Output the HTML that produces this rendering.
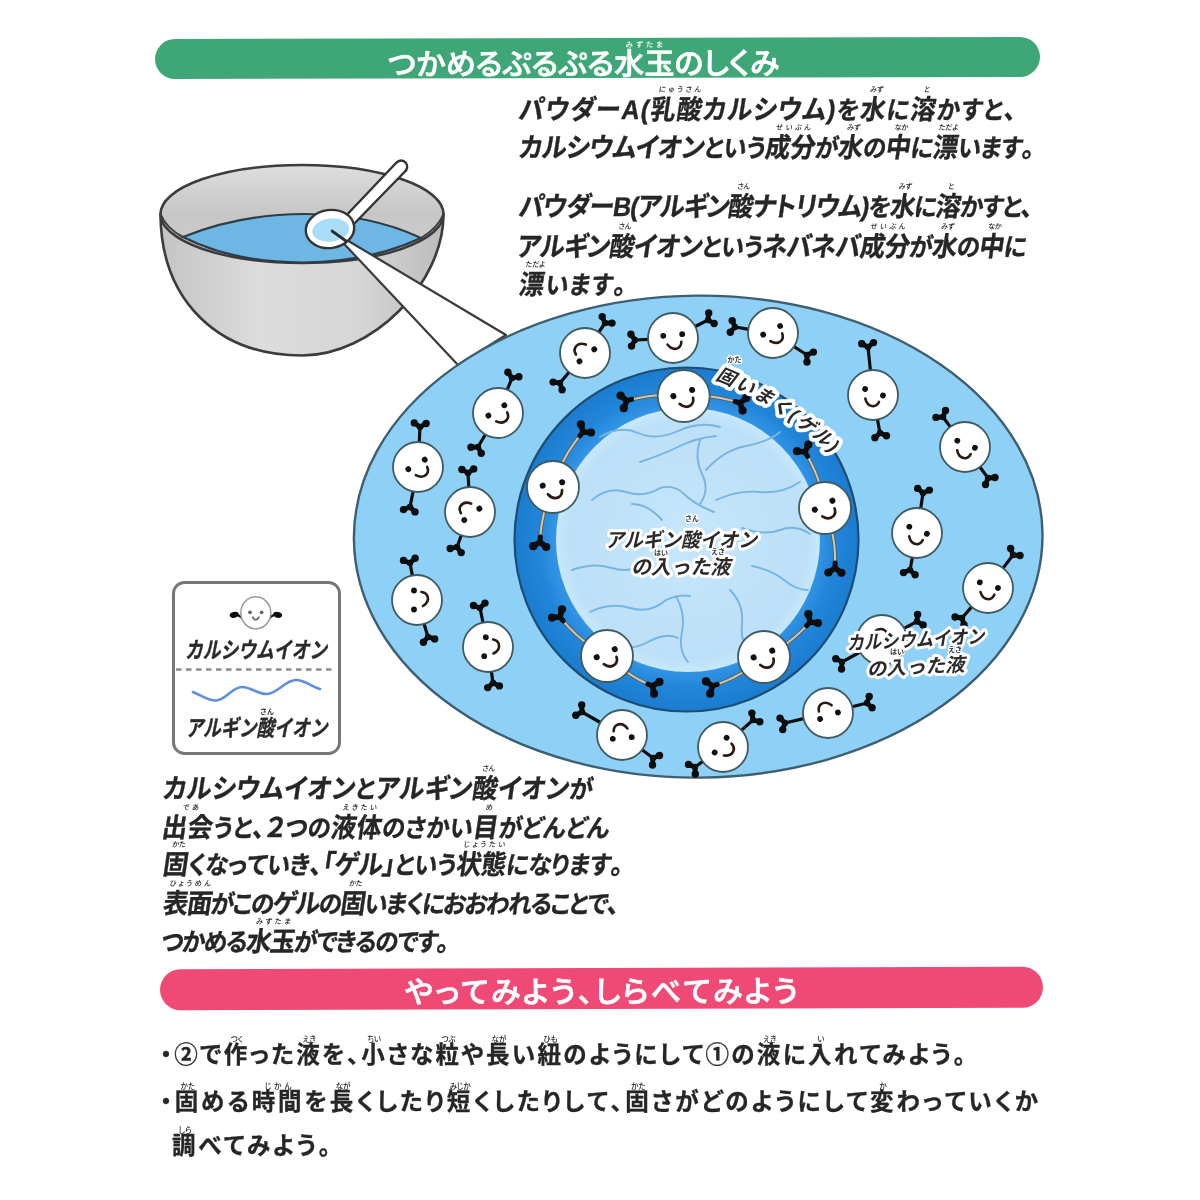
<!DOCTYPE html>
<html lang="ja"><head><meta charset="utf-8"><title>つかめるぷるぷる水玉のしくみ</title>
<style>
html,body{margin:0;padding:0;background:#fff}
#pg{position:relative;width:1200px;height:1200px;overflow:hidden;background:#fff;font-family:"Liberation Sans","Noto Sans CJK JP",sans-serif;filter:blur(.55px)}
.bn{position:absolute;border-radius:20px}
.ln{position:absolute;white-space:nowrap;transform-origin:0 80%;font-kerning:none;font-feature-settings:"palt"}
.it{transform:scaleX(.93) skewX(-9deg);-webkit-text-stroke:.35px #262626}
ruby{position:relative;display:inline;ruby-position:over}
rt{display:block;position:absolute;left:50%;top:var(--rt);transform:translateX(-50%);font-size:7.5px;line-height:9px;letter-spacing:0;font-weight:500;white-space:nowrap;text-align:center;color:inherit;-webkit-text-stroke:0}
svg{position:absolute;left:0;top:0}
svg text{font-family:"Liberation Sans","Noto Sans CJK JP",sans-serif;font-weight:bold}
.arm{stroke:#0d0d0d;fill:none;stroke-linecap:round}
.ic{fill:#fff;stroke:#3f5a60;stroke-width:1.8}
.sm{fill:none;stroke:#2a1a14;stroke-width:2.6;stroke-linecap:round}
.lb{fill:#2a2a2a;stroke:#fff;stroke-width:6px;paint-order:stroke fill;stroke-linejoin:round;font-style:italic}
.lr{fill:#333;stroke:#fff;stroke-width:2.5px;paint-order:stroke fill;font-weight:bold}
.lg{fill:#2a2a2a;font-style:italic;stroke:#2a2a2a;stroke-width:.4px}
</style></head><body><div id="pg">
<div class="bn" style="left:155px;top:38px;width:885px;height:40px;background:#3fa678;transform:rotate(-0.14deg)"></div>
<div class="bn" style="left:160px;top:967.5px;width:883px;height:40.5px;background:#ef4a76;border-radius:21px;transform:rotate(-0.16deg)"></div>
<svg width="1200" height="1200" viewBox="0 0 1200 1200">
<defs>
<linearGradient id="gb" x1="0" y1="0" x2="1" y2="0"><stop offset="0" stop-color="#c4c4c4"/><stop offset=".35" stop-color="#dcdcdc"/><stop offset=".7" stop-color="#d6d6d6"/><stop offset="1" stop-color="#bcbcbc"/></linearGradient>
<linearGradient id="gi" x1="0" y1="0" x2="0" y2="1"><stop offset="0" stop-color="#dedede"/><stop offset=".5" stop-color="#c6c6c6"/><stop offset="1" stop-color="#cfcfcf"/></linearGradient>
<radialGradient id="gin" cx=".5" cy=".5" r=".5"><stop offset="0" stop-color="#c6e6fa"/><stop offset=".9" stop-color="#bce0f8"/><stop offset="1" stop-color="#c8e8fb"/></radialGradient>
<radialGradient id="gr" cx=".5" cy=".5" r=".5"><stop offset=".76" stop-color="#3595e5"/><stop offset=".86" stop-color="#2186da"/><stop offset="1" stop-color="#1b7ccf"/></radialGradient>
</defs>
<path d="M160.5 214C161 300 217 355.5 302 355.5C372 355.5 443.5 284 443.5 214Z" fill="url(#gb)" stroke="#3c3c3c" stroke-width="2.6"/>
<ellipse cx="302" cy="214" rx="141.5" ry="49" fill="url(#gi)" stroke="#3c3c3c" stroke-width="2.6"/>
<path d="M183 237Q240 214 305 214Q370 214 421 238Q370 262 302 262.5Q232 262 183 237Z" fill="#6eb6e3" stroke="#2e3c46" stroke-width="2.2"/>
<path d="M160.5 214Q166 228 183 237M421 238Q438 228 443.5 214" fill="none" stroke="#3c3c3c" stroke-width="2"/>
<path d="M458 365L332.5 231.5L506 335Z" fill="#fff" stroke="#3a3a3a" stroke-width="2.2" stroke-linejoin="round"/>
<path d="M341 221L396.5 162.5Q402 158.5 406 163Q409 168 404.5 172L349 229Z" fill="#fff" stroke="#333" stroke-width="2.4" stroke-linejoin="round"/>
<ellipse cx="330" cy="229" rx="24.3" ry="19" transform="rotate(-8 330 229)" fill="#fff" stroke="#333" stroke-width="2.4"/>
<ellipse cx="330.7" cy="230" rx="18.5" ry="11.5" transform="rotate(-8 330.7 230)" fill="#a9dcf5"/>
<path d="M332 231L346 241" stroke="#2c2c2c" stroke-width="2.8" stroke-linecap="round"/>
<ellipse cx="698.2" cy="536.6" rx="344.3" ry="241" transform="rotate(-0.4 698 537)" fill="#8fd1f6" stroke="#3d5f70" stroke-width="2.4"/>
<circle cx="686.5" cy="539.5" r="172" fill="url(#gr)" stroke="#1f4c72" stroke-width="2.2"/>
<circle cx="688" cy="540" r="132" fill="url(#gin)"/>
<path d="M600 437q20 -12 38 -4t40 -2q22 -10 42 -4" fill="none" stroke="#78b4e2" stroke-width="1.9" stroke-linecap="round"/>
<path d="M592 500q16 -14 34 -8t34 -4q14 -4 24 6t30 18" fill="none" stroke="#78b4e2" stroke-width="1.9" stroke-linecap="round"/>
<path d="M640 462q24 -8 40 -16t36 -10" fill="none" stroke="#78b4e2" stroke-width="1.9" stroke-linecap="round"/>
<path d="M706 470q18 -20 40 -24t34 -14" fill="none" stroke="#78b4e2" stroke-width="1.9" stroke-linecap="round"/>
<path d="M716 500q22 -10 44 -8t40 -10" fill="none" stroke="#78b4e2" stroke-width="1.9" stroke-linecap="round"/>
<path d="M742 528q22 8 38 2t30 4" fill="none" stroke="#78b4e2" stroke-width="1.9" stroke-linecap="round"/>
<path d="M572 570q22 -8 40 -2t38 -6" fill="none" stroke="#78b4e2" stroke-width="1.9" stroke-linecap="round"/>
<path d="M590 612q20 -10 40 -4t36 -8q14 -6 24 -4" fill="none" stroke="#78b4e2" stroke-width="1.9" stroke-linecap="round"/>
<path d="M604 646q26 6 44 -4t30 -4" fill="none" stroke="#78b4e2" stroke-width="1.9" stroke-linecap="round"/>
<path d="M676 596q10 18 6 36t6 30" fill="none" stroke="#78b4e2" stroke-width="1.9" stroke-linecap="round"/>
<path d="M730 590q14 14 12 34t10 30" fill="none" stroke="#78b4e2" stroke-width="1.9" stroke-linecap="round"/>
<path d="M752 566q20 4 32 14t24 10" fill="none" stroke="#78b4e2" stroke-width="1.9" stroke-linecap="round"/>
<path d="M700 440q-6 18 2 34t-2 30" fill="none" stroke="#78b4e2" stroke-width="1.9" stroke-linecap="round"/>
<path d="M662 520q-14 -16 -30 -16" fill="none" stroke="#78b4e2" stroke-width="1.9" stroke-linecap="round"/>
<path d="M683.7 396.0L676.7 395.4L669.6 395.1L662.5 395.1L655.3 395.5L648.2 396.3L641.0 397.4L633.8 398.9L626.7 400.7" fill="none" stroke="#5a5a52" stroke-width="3.6" stroke-linecap="round"/><path d="M683.7 396.0L676.7 395.4L669.6 395.1L662.5 395.1L655.3 395.5L648.2 396.3L641.0 397.4L633.8 398.9L626.7 400.7" fill="none" stroke="#d2c6ae" stroke-width="2" stroke-linecap="round"/><path d="M626.7 400.7L623.8 408.2" class="arm" stroke-width="5.6"/><circle cx="623.8" cy="408.2" r="4.1" fill="#0d0d0d"/><path d="M626.7 400.7L620.6 395.6" class="arm" stroke-width="5.6"/><circle cx="620.6" cy="395.6" r="4.1" fill="#0d0d0d"/><path d="M631.5 399.4L626.7 400.7" class="arm" stroke-width="5"/>
<path d="M683.7 396.0L690.8 395.7L697.9 395.6L705.0 396.0L712.0 396.7L719.1 397.7L726.1 399.2L733.1 400.9L740.0 403.0" fill="none" stroke="#5a5a52" stroke-width="3.6" stroke-linecap="round"/><path d="M683.7 396.0L690.8 395.7L697.9 395.6L705.0 396.0L712.0 396.7L719.1 397.7L726.1 399.2L733.1 400.9L740.0 403.0" fill="none" stroke="#d2c6ae" stroke-width="2" stroke-linecap="round"/><path d="M740.0 403.0L746.3 398.1" class="arm" stroke-width="5.6"/><circle cx="746.3" cy="398.1" r="4.1" fill="#0d0d0d"/><path d="M740.0 403.0L742.6 410.6" class="arm" stroke-width="5.6"/><circle cx="742.6" cy="410.6" r="4.1" fill="#0d0d0d"/><path d="M735.2 401.5L740.0 403.0" class="arm" stroke-width="5"/>
<path d="M553.0 487.0L555.4 479.6L558.1 472.3L561.3 465.2L564.9 458.1L568.8 451.3L573.2 444.6L577.9 438.2L583.0 432.0" fill="none" stroke="#5a5a52" stroke-width="3.6" stroke-linecap="round"/><path d="M553.0 487.0L555.4 479.6L558.1 472.3L561.3 465.2L564.9 458.1L568.8 451.3L573.2 444.6L577.9 438.2L583.0 432.0" fill="none" stroke="#d2c6ae" stroke-width="2" stroke-linecap="round"/><path d="M583.0 432.0L580.9 424.3" class="arm" stroke-width="5.6"/><circle cx="580.9" cy="424.3" r="4.1" fill="#0d0d0d"/><path d="M583.0 432.0L591.0 432.5" class="arm" stroke-width="5.6"/><circle cx="591.0" cy="432.5" r="4.1" fill="#0d0d0d"/><path d="M579.8 435.9L583.0 432.0" class="arm" stroke-width="5"/>
<path d="M553.0 487.0L550.2 493.5L547.8 500.1L545.6 506.8L543.8 513.7L542.4 520.7L541.2 527.7L540.4 534.8L540.0 542.0" fill="none" stroke="#5a5a52" stroke-width="3.6" stroke-linecap="round"/><path d="M553.0 487.0L550.2 493.5L547.8 500.1L545.6 506.8L543.8 513.7L542.4 520.7L541.2 527.7L540.4 534.8L540.0 542.0" fill="none" stroke="#d2c6ae" stroke-width="2" stroke-linecap="round"/><path d="M540.0 542.0L546.2 547.0" class="arm" stroke-width="5.6"/><circle cx="546.2" cy="547.0" r="4.1" fill="#0d0d0d"/><path d="M540.0 542.0L533.2 546.2" class="arm" stroke-width="5.6"/><circle cx="533.2" cy="546.2" r="4.1" fill="#0d0d0d"/><path d="M540.3 537.0L540.0 542.0" class="arm" stroke-width="5"/>
<path d="M825.0 508.0L823.8 500.7L822.3 493.5L820.3 486.3L818.0 479.2L815.3 472.2L812.2 465.3L808.8 458.6L805.0 452.0" fill="none" stroke="#5a5a52" stroke-width="3.6" stroke-linecap="round"/><path d="M825.0 508.0L823.8 500.7L822.3 493.5L820.3 486.3L818.0 479.2L815.3 472.2L812.2 465.3L808.8 458.6L805.0 452.0" fill="none" stroke="#d2c6ae" stroke-width="2" stroke-linecap="round"/><path d="M805.0 452.0L797.0 451.2" class="arm" stroke-width="5.6"/><circle cx="797.0" cy="451.2" r="4.1" fill="#0d0d0d"/><path d="M805.0 452.0L808.3 444.7" class="arm" stroke-width="5.6"/><circle cx="808.3" cy="444.7" r="4.1" fill="#0d0d0d"/><path d="M807.5 456.3L805.0 452.0" class="arm" stroke-width="5"/>
<path d="M825.0 508.0L827.6 515.0L829.8 522.2L831.6 529.5L833.1 537.0L834.2 544.6L834.9 552.3L835.1 560.1L835.0 568.0" fill="none" stroke="#5a5a52" stroke-width="3.6" stroke-linecap="round"/><path d="M825.0 508.0L827.6 515.0L829.8 522.2L831.6 529.5L833.1 537.0L834.2 544.6L834.9 552.3L835.1 560.1L835.0 568.0" fill="none" stroke="#d2c6ae" stroke-width="2" stroke-linecap="round"/><path d="M835.0 568.0L841.4 572.8" class="arm" stroke-width="5.6"/><circle cx="841.4" cy="572.8" r="4.1" fill="#0d0d0d"/><path d="M835.0 568.0L828.4 572.5" class="arm" stroke-width="5.6"/><circle cx="828.4" cy="572.5" r="4.1" fill="#0d0d0d"/><path d="M835.1 563.0L835.0 568.0" class="arm" stroke-width="5"/>
<path d="M607.0 656.0L600.4 652.4L594.0 648.4L587.7 644.0L581.7 639.3L575.9 634.2L570.3 628.8L565.0 623.0L560.0 617.0" fill="none" stroke="#5a5a52" stroke-width="3.6" stroke-linecap="round"/><path d="M607.0 656.0L600.4 652.4L594.0 648.4L587.7 644.0L581.7 639.3L575.9 634.2L570.3 628.8L565.0 623.0L560.0 617.0" fill="none" stroke="#d2c6ae" stroke-width="2" stroke-linecap="round"/><path d="M560.0 617.0L552.0 617.6" class="arm" stroke-width="5.6"/><circle cx="552.0" cy="617.6" r="4.1" fill="#0d0d0d"/><path d="M560.0 617.0L562.0 609.3" class="arm" stroke-width="5.6"/><circle cx="562.0" cy="609.3" r="4.1" fill="#0d0d0d"/><path d="M563.2 620.8L560.0 617.0" class="arm" stroke-width="5"/>
<path d="M607.0 656.0L611.9 660.6L617.0 664.9L622.4 669.0L628.0 672.9L633.8 676.6L639.8 680.0L646.1 683.1L652.5 686.0" fill="none" stroke="#5a5a52" stroke-width="3.6" stroke-linecap="round"/><path d="M607.0 656.0L611.9 660.6L617.0 664.9L622.4 669.0L628.0 672.9L633.8 676.6L639.8 680.0L646.1 683.1L652.5 686.0" fill="none" stroke="#d2c6ae" stroke-width="2" stroke-linecap="round"/><path d="M652.5 686.0L659.4 681.9" class="arm" stroke-width="5.6"/><circle cx="659.4" cy="681.9" r="4.1" fill="#0d0d0d"/><path d="M652.5 686.0L654.1 693.8" class="arm" stroke-width="5.6"/><circle cx="654.1" cy="693.8" r="4.1" fill="#0d0d0d"/><path d="M647.9 684.0L652.5 686.0" class="arm" stroke-width="5"/>
<path d="M764.0 657.0L758.4 661.7L752.6 666.1L746.5 670.2L740.1 674.0L733.5 677.5L726.7 680.7L719.7 683.5L712.5 686.0" fill="none" stroke="#5a5a52" stroke-width="3.6" stroke-linecap="round"/><path d="M764.0 657.0L758.4 661.7L752.6 666.1L746.5 670.2L740.1 674.0L733.5 677.5L726.7 680.7L719.7 683.5L712.5 686.0" fill="none" stroke="#d2c6ae" stroke-width="2" stroke-linecap="round"/><path d="M712.5 686.0L710.2 693.7" class="arm" stroke-width="5.6"/><circle cx="710.2" cy="693.7" r="4.1" fill="#0d0d0d"/><path d="M712.5 686.0L706.0 681.4" class="arm" stroke-width="5.6"/><circle cx="706.0" cy="681.4" r="4.1" fill="#0d0d0d"/><path d="M717.2 684.4L712.5 686.0" class="arm" stroke-width="5"/>
<path d="M764.0 657.0L770.3 653.8L776.5 650.2L782.6 646.3L788.5 642.1L794.2 637.5L799.7 632.6L805.0 627.5L810.0 622.0" fill="none" stroke="#5a5a52" stroke-width="3.6" stroke-linecap="round"/><path d="M764.0 657.0L770.3 653.8L776.5 650.2L782.6 646.3L788.5 642.1L794.2 637.5L799.7 632.6L805.0 627.5L810.0 622.0" fill="none" stroke="#d2c6ae" stroke-width="2" stroke-linecap="round"/><path d="M810.0 622.0L808.4 614.2" class="arm" stroke-width="5.6"/><circle cx="808.4" cy="614.2" r="4.1" fill="#0d0d0d"/><path d="M810.0 622.0L817.9 623.0" class="arm" stroke-width="5.6"/><circle cx="817.9" cy="623.0" r="4.1" fill="#0d0d0d"/><path d="M806.6 625.7L810.0 622.0" class="arm" stroke-width="5"/>
<circle cx="683.7" cy="396.0" r="26.0" class="ic"/><g transform="translate(683.7 396.0) rotate(-18) scale(1.04)"><circle cx="-9.5" cy="-3" r="2.9" fill="#111"/><circle cx="9.5" cy="-3" r="2.9" fill="#111"/><path d="M-6 6Q-2 12.5 4 10.5Q7.5 9 8 4.5" class="sm"/></g>
<circle cx="553.0" cy="487.0" r="26.0" class="ic"/><g transform="translate(553.0 487.0) rotate(-10) scale(1.04)"><circle cx="-9.5" cy="-3" r="2.9" fill="#111"/><circle cx="9.5" cy="-3" r="2.9" fill="#111"/><path d="M-6 6Q-2 12.5 4 10.5Q7.5 9 8 4.5" class="sm"/></g>
<circle cx="825.0" cy="508.0" r="26.0" class="ic"/><g transform="translate(825.0 508.0) rotate(-27) scale(1.04)"><circle cx="-9.5" cy="-3" r="2.9" fill="#111"/><circle cx="9.5" cy="-3" r="2.9" fill="#111"/><path d="M-6 6Q-2 12.5 4 10.5Q7.5 9 8 4.5" class="sm"/></g>
<circle cx="607.0" cy="656.0" r="26.0" class="ic"/><g transform="translate(607.0 656.0) rotate(-24) scale(1.04)"><circle cx="-9.5" cy="-3" r="2.9" fill="#111"/><circle cx="9.5" cy="-3" r="2.9" fill="#111"/><path d="M-6 6Q-2 12.5 4 10.5Q7.5 9 8 4.5" class="sm"/></g>
<circle cx="764.0" cy="657.0" r="26.0" class="ic"/><g transform="translate(764.0 657.0) rotate(-20) scale(1.04)"><circle cx="-9.5" cy="-3" r="2.9" fill="#111"/><circle cx="9.5" cy="-3" r="2.9" fill="#111"/><path d="M-6 6Q-2 12.5 4 10.5Q7.5 9 8 4.5" class="sm"/></g>
<path d="M419.2 443.0L420.0 427.0" class="arm" stroke-width="3.2"/><path d="M420.0 427.0L414.3 422.9" class="arm" stroke-width="4.8"/><circle cx="414.3" cy="422.9" r="3.7" fill="#0d0d0d"/><path d="M420.0 427.0L426.1 423.5" class="arm" stroke-width="4.8"/><circle cx="426.1" cy="423.5" r="3.7" fill="#0d0d0d"/><circle cx="420.0" cy="427.0" r="3.2" fill="#0d0d0d"/><path d="M413.3 490.5L410.0 507.0" class="arm" stroke-width="3.2"/><path d="M410.0 507.0L415.0 511.9" class="arm" stroke-width="4.8"/><circle cx="415.0" cy="511.9" r="3.7" fill="#0d0d0d"/><path d="M410.0 507.0L403.5 509.6" class="arm" stroke-width="4.8"/><circle cx="403.5" cy="509.6" r="3.7" fill="#0d0d0d"/><circle cx="410.0" cy="507.0" r="3.2" fill="#0d0d0d"/><circle cx="418.0" cy="467.0" r="25.0" class="ic"/><g transform="translate(418.0 467.0) rotate(-30) scale(1.00)"><circle cx="-9.5" cy="-3" r="2.9" fill="#111"/><circle cx="9.5" cy="-3" r="2.9" fill="#111"/><path d="M-6 6Q-2 12.5 4 10.5Q7.5 9 8 4.5" class="sm"/></g>
<path d="M506.9 390.7L512.0 378.0" class="arm" stroke-width="3.2"/><path d="M512.0 378.0L507.9 372.3" class="arm" stroke-width="4.8"/><circle cx="507.9" cy="372.3" r="3.7" fill="#0d0d0d"/><path d="M512.0 378.0L518.9 376.7" class="arm" stroke-width="4.8"/><circle cx="518.9" cy="376.7" r="3.7" fill="#0d0d0d"/><circle cx="512.0" cy="378.0" r="3.2" fill="#0d0d0d"/><path d="M485.8 433.7L478.0 447.0" class="arm" stroke-width="3.2"/><path d="M478.0 447.0L481.2 453.2" class="arm" stroke-width="4.8"/><circle cx="481.2" cy="453.2" r="3.7" fill="#0d0d0d"/><path d="M478.0 447.0L471.0 447.3" class="arm" stroke-width="4.8"/><circle cx="471.0" cy="447.3" r="3.7" fill="#0d0d0d"/><circle cx="478.0" cy="447.0" r="3.2" fill="#0d0d0d"/><circle cx="498.0" cy="413.0" r="25.0" class="ic"/><g transform="translate(498.0 413.0) rotate(-33) scale(1.00)"><circle cx="-9.5" cy="-3" r="2.9" fill="#111"/><circle cx="9.5" cy="-3" r="2.9" fill="#111"/><path d="M-6 6Q-2 12.5 4 10.5Q7.5 9 8 4.5" class="sm"/></g>
<path d="M598.3 333.0L605.0 323.0" class="arm" stroke-width="3.2"/><path d="M605.0 323.0L602.2 316.6" class="arm" stroke-width="4.8"/><circle cx="602.2" cy="316.6" r="3.7" fill="#0d0d0d"/><path d="M605.0 323.0L612.0 323.1" class="arm" stroke-width="4.8"/><circle cx="612.0" cy="323.1" r="3.7" fill="#0d0d0d"/><circle cx="605.0" cy="323.0" r="3.2" fill="#0d0d0d"/><path d="M569.6 371.4L560.0 383.0" class="arm" stroke-width="3.2"/><path d="M560.0 383.0L562.1 389.7" class="arm" stroke-width="4.8"/><circle cx="562.1" cy="389.7" r="3.7" fill="#0d0d0d"/><path d="M560.0 383.0L553.1 382.1" class="arm" stroke-width="4.8"/><circle cx="553.1" cy="382.1" r="3.7" fill="#0d0d0d"/><circle cx="560.0" cy="383.0" r="3.2" fill="#0d0d0d"/><circle cx="585.0" cy="353.0" r="25.0" class="ic"/><g transform="translate(585.0 353.0) rotate(141) scale(1.00)"><circle cx="-9.5" cy="-3" r="2.9" fill="#111"/><circle cx="9.5" cy="-3" r="2.9" fill="#111"/><path d="M-6 6Q-2 12.5 4 10.5Q7.5 9 8 4.5" class="sm"/></g>
<path d="M649.0 339.3L635.0 340.0" class="arm" stroke-width="3.2"/><path d="M635.0 340.0L631.5 346.1" class="arm" stroke-width="4.8"/><circle cx="631.5" cy="346.1" r="3.7" fill="#0d0d0d"/><path d="M635.0 340.0L630.9 334.3" class="arm" stroke-width="4.8"/><circle cx="630.9" cy="334.3" r="3.7" fill="#0d0d0d"/><circle cx="635.0" cy="340.0" r="3.2" fill="#0d0d0d"/><path d="M694.3 327.0L708.0 320.0" class="arm" stroke-width="3.2"/><path d="M708.0 320.0L708.7 313.0" class="arm" stroke-width="4.8"/><circle cx="708.7" cy="313.0" r="3.7" fill="#0d0d0d"/><path d="M708.0 320.0L714.1 323.5" class="arm" stroke-width="4.8"/><circle cx="714.1" cy="323.5" r="3.7" fill="#0d0d0d"/><circle cx="708.0" cy="320.0" r="3.2" fill="#0d0d0d"/><circle cx="673.0" cy="338.0" r="25.0" class="ic"/><g transform="translate(673.0 338.0) rotate(-5) scale(1.00)"><circle cx="-9.5" cy="-3" r="2.9" fill="#111"/><circle cx="9.5" cy="-3" r="2.9" fill="#111"/><path d="M-6 6Q-2 12.5 4 10.5Q7.5 9 8 4.5" class="sm"/></g>
<path d="M468.8 488.0L468.0 473.0" class="arm" stroke-width="3.2"/><path d="M468.0 473.0L461.9 469.5" class="arm" stroke-width="4.8"/><circle cx="461.9" cy="469.5" r="3.7" fill="#0d0d0d"/><path d="M468.0 473.0L473.7 468.9" class="arm" stroke-width="4.8"/><circle cx="473.7" cy="468.9" r="3.7" fill="#0d0d0d"/><circle cx="468.0" cy="473.0" r="3.2" fill="#0d0d0d"/><path d="M461.6 534.5L457.0 547.0" class="arm" stroke-width="3.2"/><path d="M457.0 547.0L461.2 552.6" class="arm" stroke-width="4.8"/><circle cx="461.2" cy="552.6" r="3.7" fill="#0d0d0d"/><path d="M457.0 547.0L450.2 548.5" class="arm" stroke-width="4.8"/><circle cx="450.2" cy="548.5" r="3.7" fill="#0d0d0d"/><circle cx="457.0" cy="547.0" r="3.2" fill="#0d0d0d"/><circle cx="470.0" cy="512.0" r="25.0" class="ic"/><g transform="translate(470.0 512.0) rotate(143) scale(1.00)"><circle cx="-9.5" cy="-3" r="2.9" fill="#111"/><circle cx="9.5" cy="-3" r="2.9" fill="#111"/><path d="M-6 6Q-2 12.5 4 10.5Q7.5 9 8 4.5" class="sm"/></g>
<path d="M749.3 329.3L735.0 327.0" class="arm" stroke-width="3.2"/><path d="M735.0 327.0L730.3 332.2" class="arm" stroke-width="4.8"/><circle cx="730.3" cy="332.2" r="3.7" fill="#0d0d0d"/><path d="M735.0 327.0L732.2 320.6" class="arm" stroke-width="4.8"/><circle cx="732.2" cy="320.6" r="3.7" fill="#0d0d0d"/><circle cx="735.0" cy="327.0" r="3.2" fill="#0d0d0d"/><path d="M793.1 346.0L807.0 355.0" class="arm" stroke-width="3.2"/><path d="M807.0 355.0L813.4 352.1" class="arm" stroke-width="4.8"/><circle cx="813.4" cy="352.1" r="3.7" fill="#0d0d0d"/><path d="M807.0 355.0L807.0 362.0" class="arm" stroke-width="4.8"/><circle cx="807.0" cy="362.0" r="3.7" fill="#0d0d0d"/><circle cx="807.0" cy="355.0" r="3.2" fill="#0d0d0d"/><circle cx="773.0" cy="333.0" r="25.0" class="ic"/><g transform="translate(773.0 333.0) rotate(-27) scale(1.00)"><circle cx="-9.5" cy="-3" r="2.9" fill="#111"/><circle cx="9.5" cy="-3" r="2.9" fill="#111"/><path d="M-6 6Q-2 12.5 4 10.5Q7.5 9 8 4.5" class="sm"/></g>
<path d="M870.5 371.1L868.0 347.0" class="arm" stroke-width="3.2"/><path d="M868.0 347.0L861.7 343.8" class="arm" stroke-width="4.8"/><circle cx="861.7" cy="343.8" r="3.7" fill="#0d0d0d"/><path d="M868.0 347.0L873.5 342.6" class="arm" stroke-width="4.8"/><circle cx="873.5" cy="342.6" r="3.7" fill="#0d0d0d"/><circle cx="868.0" cy="347.0" r="3.2" fill="#0d0d0d"/><path d="M877.3 418.6L880.0 433.0" class="arm" stroke-width="3.2"/><path d="M880.0 433.0L886.5 435.7" class="arm" stroke-width="4.8"/><circle cx="886.5" cy="435.7" r="3.7" fill="#0d0d0d"/><path d="M880.0 433.0L874.9 437.8" class="arm" stroke-width="4.8"/><circle cx="874.9" cy="437.8" r="3.7" fill="#0d0d0d"/><circle cx="880.0" cy="433.0" r="3.2" fill="#0d0d0d"/><circle cx="873.0" cy="395.0" r="25.0" class="ic"/><g transform="translate(873.0 395.0) rotate(20) scale(1.00)"><circle cx="-9.5" cy="-3" r="2.9" fill="#111"/><circle cx="9.5" cy="-3" r="2.9" fill="#111"/><path d="M-6 6Q-2 12.5 4 10.5Q7.5 9 8 4.5" class="sm"/></g>
<path d="M950.8 427.6L943.0 417.0" class="arm" stroke-width="3.2"/><path d="M943.0 417.0L936.0 417.4" class="arm" stroke-width="4.8"/><circle cx="936.0" cy="417.4" r="3.7" fill="#0d0d0d"/><path d="M943.0 417.0L945.5 410.5" class="arm" stroke-width="4.8"/><circle cx="945.5" cy="410.5" r="3.7" fill="#0d0d0d"/><circle cx="943.0" cy="417.0" r="3.2" fill="#0d0d0d"/><path d="M979.3 466.3L988.0 478.0" class="arm" stroke-width="3.2"/><path d="M988.0 478.0L995.0 477.5" class="arm" stroke-width="4.8"/><circle cx="995.0" cy="477.5" r="3.7" fill="#0d0d0d"/><path d="M988.0 478.0L985.5 484.5" class="arm" stroke-width="4.8"/><circle cx="985.5" cy="484.5" r="3.7" fill="#0d0d0d"/><circle cx="988.0" cy="478.0" r="3.2" fill="#0d0d0d"/><circle cx="965.0" cy="447.0" r="25.0" class="ic"/><g transform="translate(965.0 447.0) rotate(22) scale(1.00)"><circle cx="-9.5" cy="-3" r="2.9" fill="#111"/><circle cx="9.5" cy="-3" r="2.9" fill="#111"/><path d="M-6 6Q-2 12.5 4 10.5Q7.5 9 8 4.5" class="sm"/></g>
<path d="M920.6 509.3L923.0 493.0" class="arm" stroke-width="3.2"/><path d="M923.0 493.0L917.7 488.4" class="arm" stroke-width="4.8"/><circle cx="917.7" cy="488.4" r="3.7" fill="#0d0d0d"/><path d="M923.0 493.0L929.4 490.1" class="arm" stroke-width="4.8"/><circle cx="929.4" cy="490.1" r="3.7" fill="#0d0d0d"/><circle cx="923.0" cy="493.0" r="3.2" fill="#0d0d0d"/><path d="M912.5 556.6L910.0 570.0" class="arm" stroke-width="3.2"/><path d="M910.0 570.0L915.1 574.8" class="arm" stroke-width="4.8"/><circle cx="915.1" cy="574.8" r="3.7" fill="#0d0d0d"/><path d="M910.0 570.0L903.5 572.6" class="arm" stroke-width="4.8"/><circle cx="903.5" cy="572.6" r="3.7" fill="#0d0d0d"/><circle cx="910.0" cy="570.0" r="3.2" fill="#0d0d0d"/><circle cx="917.0" cy="533.0" r="25.0" class="ic"/><g transform="translate(917.0 533.0) rotate(22) scale(1.00)"><circle cx="-9.5" cy="-3" r="2.9" fill="#111"/><circle cx="9.5" cy="-3" r="2.9" fill="#111"/><path d="M-6 6Q-2 12.5 4 10.5Q7.5 9 8 4.5" class="sm"/></g>
<path d="M1002.5 568.9L1013.0 555.0" class="arm" stroke-width="3.2"/><path d="M1013.0 555.0L1010.6 548.4" class="arm" stroke-width="4.8"/><circle cx="1010.6" cy="548.4" r="3.7" fill="#0d0d0d"/><path d="M1013.0 555.0L1020.0 555.5" class="arm" stroke-width="4.8"/><circle cx="1020.0" cy="555.5" r="3.7" fill="#0d0d0d"/><circle cx="1013.0" cy="555.0" r="3.2" fill="#0d0d0d"/><path d="M972.3 606.1L962.0 618.0" class="arm" stroke-width="3.2"/><path d="M962.0 618.0L964.0 624.7" class="arm" stroke-width="4.8"/><circle cx="964.0" cy="624.7" r="3.7" fill="#0d0d0d"/><path d="M962.0 618.0L955.1 617.0" class="arm" stroke-width="4.8"/><circle cx="955.1" cy="617.0" r="3.7" fill="#0d0d0d"/><circle cx="962.0" cy="618.0" r="3.2" fill="#0d0d0d"/><circle cx="988.0" cy="588.0" r="25.0" class="ic"/><g transform="translate(988.0 588.0) rotate(17) scale(1.00)"><circle cx="-9.5" cy="-3" r="2.9" fill="#111"/><circle cx="9.5" cy="-3" r="2.9" fill="#111"/><path d="M-6 6Q-2 12.5 4 10.5Q7.5 9 8 4.5" class="sm"/></g>
<path d="M851.2 707.0L867.0 703.0" class="arm" stroke-width="3.2"/><path d="M867.0 703.0L869.2 696.4" class="arm" stroke-width="4.8"/><circle cx="869.2" cy="696.4" r="3.7" fill="#0d0d0d"/><path d="M867.0 703.0L872.1 707.8" class="arm" stroke-width="4.8"/><circle cx="872.1" cy="707.8" r="3.7" fill="#0d0d0d"/><circle cx="867.0" cy="703.0" r="3.2" fill="#0d0d0d"/><path d="M804.6 718.4L785.0 723.0" class="arm" stroke-width="3.2"/><path d="M785.0 723.0L782.7 729.6" class="arm" stroke-width="4.8"/><circle cx="782.7" cy="729.6" r="3.7" fill="#0d0d0d"/><path d="M785.0 723.0L780.0 718.1" class="arm" stroke-width="4.8"/><circle cx="780.0" cy="718.1" r="3.7" fill="#0d0d0d"/><circle cx="785.0" cy="723.0" r="3.2" fill="#0d0d0d"/><circle cx="828.0" cy="713.0" r="25.0" class="ic"/><g transform="translate(828.0 713.0) rotate(160) scale(1.00)"><circle cx="-9.5" cy="-3" r="2.9" fill="#111"/><circle cx="9.5" cy="-3" r="2.9" fill="#111"/><path d="M-6 6Q-2 12.5 4 10.5Q7.5 9 8 4.5" class="sm"/></g>
<path d="M740.8 730.9L753.0 720.0" class="arm" stroke-width="3.2"/><path d="M753.0 720.0L751.9 713.1" class="arm" stroke-width="4.8"/><circle cx="751.9" cy="713.1" r="3.7" fill="#0d0d0d"/><path d="M753.0 720.0L759.8 721.8" class="arm" stroke-width="4.8"/><circle cx="759.8" cy="721.8" r="3.7" fill="#0d0d0d"/><circle cx="753.0" cy="720.0" r="3.2" fill="#0d0d0d"/><path d="M703.5 760.9L695.0 767.0" class="arm" stroke-width="3.2"/><path d="M695.0 767.0L695.3 774.0" class="arm" stroke-width="4.8"/><circle cx="695.3" cy="774.0" r="3.7" fill="#0d0d0d"/><path d="M695.0 767.0L688.5 764.4" class="arm" stroke-width="4.8"/><circle cx="688.5" cy="764.4" r="3.7" fill="#0d0d0d"/><circle cx="695.0" cy="767.0" r="3.2" fill="#0d0d0d"/><circle cx="723.0" cy="747.0" r="25.0" class="ic"/><g transform="translate(723.0 747.0) rotate(-51) scale(1.00)"><circle cx="-9.5" cy="-3" r="2.9" fill="#111"/><circle cx="9.5" cy="-3" r="2.9" fill="#111"/><path d="M-6 6Q-2 12.5 4 10.5Q7.5 9 8 4.5" class="sm"/></g>
<path d="M412.5 576.4L410.0 563.0" class="arm" stroke-width="3.2"/><path d="M410.0 563.0L403.5 560.4" class="arm" stroke-width="4.8"/><circle cx="403.5" cy="560.4" r="3.7" fill="#0d0d0d"/><path d="M410.0 563.0L415.1 558.2" class="arm" stroke-width="4.8"/><circle cx="415.1" cy="558.2" r="3.7" fill="#0d0d0d"/><circle cx="410.0" cy="563.0" r="3.2" fill="#0d0d0d"/><path d="M423.8 623.0L428.0 637.0" class="arm" stroke-width="3.2"/><path d="M428.0 637.0L434.7 638.9" class="arm" stroke-width="4.8"/><circle cx="434.7" cy="638.9" r="3.7" fill="#0d0d0d"/><path d="M428.0 637.0L423.4 642.3" class="arm" stroke-width="4.8"/><circle cx="423.4" cy="642.3" r="3.7" fill="#0d0d0d"/><circle cx="428.0" cy="637.0" r="3.2" fill="#0d0d0d"/><circle cx="417.0" cy="600.0" r="25.0" class="ic"/><g transform="translate(417.0 600.0) rotate(-90) scale(1.00)"><circle cx="-9.5" cy="-3" r="2.9" fill="#111"/><circle cx="9.5" cy="-3" r="2.9" fill="#111"/><path d="M-6 6Q-2 12.5 4 10.5Q7.5 9 8 4.5" class="sm"/></g>
<path d="M483.2 623.5L480.0 608.0" class="arm" stroke-width="3.2"/><path d="M480.0 608.0L473.5 605.5" class="arm" stroke-width="4.8"/><circle cx="473.5" cy="605.5" r="3.7" fill="#0d0d0d"/><path d="M480.0 608.0L485.0 603.1" class="arm" stroke-width="4.8"/><circle cx="485.0" cy="603.1" r="3.7" fill="#0d0d0d"/><circle cx="480.0" cy="608.0" r="3.2" fill="#0d0d0d"/><path d="M491.3 670.8L493.0 683.0" class="arm" stroke-width="3.2"/><path d="M493.0 683.0L499.4 685.9" class="arm" stroke-width="4.8"/><circle cx="499.4" cy="685.9" r="3.7" fill="#0d0d0d"/><path d="M493.0 683.0L487.7 687.6" class="arm" stroke-width="4.8"/><circle cx="487.7" cy="687.6" r="3.7" fill="#0d0d0d"/><circle cx="493.0" cy="683.0" r="3.2" fill="#0d0d0d"/><circle cx="488.0" cy="647.0" r="25.0" class="ic"/><g transform="translate(488.0 647.0) rotate(-85) scale(1.00)"><circle cx="-9.5" cy="-3" r="2.9" fill="#111"/><circle cx="9.5" cy="-3" r="2.9" fill="#111"/><path d="M-6 6Q-2 12.5 4 10.5Q7.5 9 8 4.5" class="sm"/></g>
<path d="M601.2 723.0L582.0 712.0" class="arm" stroke-width="3.2"/><path d="M582.0 712.0L575.8 715.2" class="arm" stroke-width="4.8"/><circle cx="575.8" cy="715.2" r="3.7" fill="#0d0d0d"/><path d="M582.0 712.0L581.7 705.0" class="arm" stroke-width="4.8"/><circle cx="581.7" cy="705.0" r="3.7" fill="#0d0d0d"/><circle cx="582.0" cy="712.0" r="3.2" fill="#0d0d0d"/><path d="M641.3 749.3L653.0 758.0" class="arm" stroke-width="3.2"/><path d="M653.0 758.0L659.5 755.5" class="arm" stroke-width="4.8"/><circle cx="659.5" cy="755.5" r="3.7" fill="#0d0d0d"/><path d="M653.0 758.0L652.5 765.0" class="arm" stroke-width="4.8"/><circle cx="652.5" cy="765.0" r="3.7" fill="#0d0d0d"/><circle cx="653.0" cy="758.0" r="3.2" fill="#0d0d0d"/><circle cx="622.0" cy="735.0" r="25.0" class="ic"/><g transform="translate(622.0 735.0) rotate(175) scale(1.00)"><circle cx="-9.5" cy="-3" r="2.9" fill="#111"/><circle cx="9.5" cy="-3" r="2.9" fill="#111"/><path d="M-6 6Q-2 12.5 4 10.5Q7.5 9 8 4.5" class="sm"/></g>
<path d="M903.2 628.8L917.0 621.5" class="arm" stroke-width="3.2"/><path d="M917.0 621.5L917.6 614.5" class="arm" stroke-width="4.8"/><circle cx="917.6" cy="614.5" r="3.7" fill="#0d0d0d"/><path d="M917.0 621.5L923.1 624.9" class="arm" stroke-width="4.8"/><circle cx="923.1" cy="624.9" r="3.7" fill="#0d0d0d"/><circle cx="917.0" cy="621.5" r="3.2" fill="#0d0d0d"/><path d="M861.0 651.6L842.0 662.0" class="arm" stroke-width="3.2"/><path d="M842.0 662.0L841.5 669.0" class="arm" stroke-width="4.8"/><circle cx="841.5" cy="669.0" r="3.7" fill="#0d0d0d"/><path d="M842.0 662.0L835.8 658.7" class="arm" stroke-width="4.8"/><circle cx="835.8" cy="658.7" r="3.7" fill="#0d0d0d"/><circle cx="842.0" cy="662.0" r="3.2" fill="#0d0d0d"/><circle cx="882.0" cy="640.0" r="25.0" class="ic"/><g transform="translate(882.0 640.0) rotate(180) scale(1.00)"><circle cx="-9.5" cy="-3" r="2.9" fill="#111"/><circle cx="9.5" cy="-3" r="2.9" fill="#111"/><path d="M-6 6Q-2 12.5 4 10.5Q7.5 9 8 4.5" class="sm"/></g>
<text x="605.0" y="547.0" font-size="20.0" class="lb" textLength="152.0" lengthAdjust="spacingAndGlyphs">アルギン酸イオン</text>
<text x="631.0" y="574.0" font-size="20.0" class="lb" textLength="99.0" lengthAdjust="spacingAndGlyphs">の入った液</text>
<text x="847.0" y="650.0" font-size="19.0" class="lb" textLength="138.0" lengthAdjust="spacingAndGlyphs" transform="rotate(-3.0 847.0 650.0)">カルシウムイオン</text>
<text x="867.0" y="676.0" font-size="19.0" class="lb" textLength="98.0" lengthAdjust="spacingAndGlyphs" transform="rotate(-3.0 867.0 676.0)">の入った液</text>
<text x="692.0" y="521.0" font-size="7.0" class="lr" text-anchor="middle">さん</text>
<text x="661.0" y="554.5" font-size="7.0" class="lr" text-anchor="middle">はい</text>
<text x="718.0" y="553.5" font-size="7.0" class="lr" text-anchor="middle">えき</text>
<text x="897.0" y="654.0" font-size="7.0" class="lr" text-anchor="middle">はい</text>
<text x="955.0" y="652.0" font-size="7.0" class="lr" text-anchor="middle">えき</text>
<path id="cp" d="M715 379.2Q776 403.3 833.4 454.2" fill="none"/>
<text font-size="18.5" class="lb" style="stroke-width:7.5px"><textPath href="#cp" startOffset="0" textLength="139" lengthAdjust="spacing">固いまく(ゲル)</textPath></text>
<text x="734.5" y="362.0" font-size="7.0" class="lr" text-anchor="middle">かた</text>
<rect x="173.5" y="582.5" width="166" height="171" rx="11" fill="#fff" stroke="#777" stroke-width="3"/>
<path d="M176 669.5H332" stroke="#8a8a8a" stroke-width="2.4" stroke-dasharray="5.5 4.5"/>
<path d="M193 692C201 695 208 701 216 700.5C226 700 232 687 242 687C251 687 258 694.5 267 694C278 693.5 285 680 296 680C305 680 312 687 320 689" fill="none" stroke="#5f8fdc" stroke-width="2.6" stroke-linecap="round"/>
<path d="M243.5 620Q239 614 233 614.5M268 620Q272.5 614 278.5 614.5" fill="none" stroke="#111" stroke-width="2.2" stroke-linecap="round"/>
<ellipse cx="234.2" cy="614.8" rx="4.6" ry="2.9" transform="rotate(-12 234.2 614.8)" fill="#0d0d0d"/><ellipse cx="277.6" cy="614.8" rx="4.6" ry="2.9" transform="rotate(12 277.6 614.8)" fill="#0d0d0d"/>
<ellipse cx="255.8" cy="612.8" rx="15" ry="16" fill="#fff" stroke="#9a9a9a" stroke-width="1.5"/>
<circle cx="250" cy="612.3" r="1.9" fill="#666"/><circle cx="261.6" cy="612.3" r="1.9" fill="#666"/><path d="M252.8 617.2Q255.8 622.5 258.8 617.2" fill="none" stroke="#666" stroke-width="1.8" stroke-linecap="round"/>
<text x="185" y="657.5" font-size="22.5" class="lg" textLength="142" lengthAdjust="spacingAndGlyphs">カルシウムイオン</text>
<text x="185.5" y="736" font-size="22.5" class="lg" textLength="142" lengthAdjust="spacingAndGlyphs">アルギン酸イオン</text>
<text x="267.0" y="714.0" font-size="7.0" class="lr" text-anchor="middle">さん</text>
</svg>
<div class="ln it" style="left:518.0px;top:94.0px;font-size:27.0px;line-height:32px;color:#262626;font-weight:bold;--rt:-10.5px;"><span style="letter-spacing:1.32px">パウダー</span><span style="letter-spacing:1.32px">A(</span><ruby><span style="letter-spacing:1.32px">乳酸</span><rt style="letter-spacing:3.0px;padding-left:3.0px">にゅうさん</rt></ruby><span style="letter-spacing:1.32px">カルシウム</span><span style="letter-spacing:1.32px">)</span><span style="letter-spacing:1.32px;font-size:25.1px">を</span><ruby><span style="letter-spacing:1.32px">水</span><rt>みず</rt></ruby><span style="letter-spacing:1.32px;font-size:25.1px">に</span><ruby><span style="letter-spacing:1.32px">溶</span><rt>と</rt></ruby><span style="letter-spacing:1.32px;font-size:25.1px">かすと</span><span style="letter-spacing:1.32px">、</span></div>
<div class="ln it" style="left:518.0px;top:132.0px;font-size:27.0px;line-height:32px;color:#262626;font-weight:bold;--rt:-10.5px;"><span style="letter-spacing:-0.27px">カルシウムイオン</span><span style="letter-spacing:-0.27px;font-size:25.1px">という</span><ruby><span style="letter-spacing:-0.27px">成分</span><rt style="letter-spacing:3.0px;padding-left:3.0px">せいぶん</rt></ruby><span style="letter-spacing:-0.27px;font-size:25.1px">が</span><ruby><span style="letter-spacing:-0.27px">水</span><rt>みず</rt></ruby><span style="letter-spacing:-0.27px;font-size:25.1px">の</span><ruby><span style="letter-spacing:-0.27px">中</span><rt>なか</rt></ruby><span style="letter-spacing:-0.27px;font-size:25.1px">に</span><ruby><span style="letter-spacing:-0.27px">漂</span><rt>ただよ</rt></ruby><span style="letter-spacing:-0.27px;font-size:25.1px">います</span><span style="letter-spacing:-0.27px">。</span></div>
<div class="ln it" style="left:518.0px;top:191.0px;font-size:27.0px;line-height:32px;color:#262626;font-weight:bold;--rt:-10.5px;"><span style="letter-spacing:-0.96px">パウダー</span><span style="letter-spacing:-0.96px">B(</span><span style="letter-spacing:-0.96px">アルギン</span><ruby><span style="letter-spacing:-0.96px">酸</span><rt>さん</rt></ruby><span style="letter-spacing:-0.96px">ナトリウム</span><span style="letter-spacing:-0.96px">)</span><span style="letter-spacing:-0.96px;font-size:25.1px">を</span><ruby><span style="letter-spacing:-0.96px">水</span><rt>みず</rt></ruby><span style="letter-spacing:-0.96px;font-size:25.1px">に</span><ruby><span style="letter-spacing:-0.96px">溶</span><rt>と</rt></ruby><span style="letter-spacing:-0.96px;font-size:25.1px">かすと</span><span style="letter-spacing:-0.96px">、</span></div>
<div class="ln it" style="left:516.0px;top:231.0px;font-size:27.0px;line-height:32px;color:#262626;font-weight:bold;--rt:-10.5px;"><span style="letter-spacing:-0.51px">アルギン</span><ruby><span style="letter-spacing:-0.51px">酸</span><rt>さん</rt></ruby><span style="letter-spacing:-0.51px">イオン</span><span style="letter-spacing:-0.51px;font-size:25.1px">という</span><span style="letter-spacing:-0.51px">ネバネバ</span><ruby><span style="letter-spacing:-0.51px">成分</span><rt style="letter-spacing:3.0px;padding-left:3.0px">せいぶん</rt></ruby><span style="letter-spacing:-0.51px;font-size:25.1px">が</span><ruby><span style="letter-spacing:-0.51px">水</span><rt>みず</rt></ruby><span style="letter-spacing:-0.51px;font-size:25.1px">の</span><ruby><span style="letter-spacing:-0.51px">中</span><rt>なか</rt></ruby><span style="letter-spacing:-0.51px;font-size:25.1px">に</span></div>
<div class="ln it" style="left:518.0px;top:269.0px;font-size:27.0px;line-height:32px;color:#262626;font-weight:bold;--rt:-10.5px;"><ruby><span style="letter-spacing:1.22px">漂</span><rt>ただよ</rt></ruby><span style="letter-spacing:1.22px;font-size:25.1px">います</span><span style="letter-spacing:1.22px">。</span></div>
<div class="ln it" style="left:162.0px;top:773.0px;font-size:27.0px;line-height:32px;color:#262626;font-weight:bold;--rt:-10.5px;"><span style="letter-spacing:0.71px">カルシウムイオン</span><span style="letter-spacing:0.71px;font-size:25.1px">と</span><span style="letter-spacing:0.71px">アルギン</span><ruby><span style="letter-spacing:0.71px">酸</span><rt>さん</rt></ruby><span style="letter-spacing:0.71px">イオン</span><span style="letter-spacing:0.71px;font-size:25.1px">が</span></div>
<div class="ln it" style="left:161.0px;top:812.0px;font-size:27.0px;line-height:32px;color:#262626;font-weight:bold;--rt:-10.5px;"><ruby><span style="letter-spacing:0.41px">出会</span><rt style="letter-spacing:3.0px;padding-left:3.0px">であ</rt></ruby><span style="letter-spacing:0.41px;font-size:25.1px">うと</span><span style="letter-spacing:0.41px">、</span><span style="letter-spacing:0.41px">２</span><span style="letter-spacing:0.41px;font-size:25.1px">つの</span><ruby><span style="letter-spacing:0.41px">液体</span><rt style="letter-spacing:3.0px;padding-left:3.0px">えきたい</rt></ruby><span style="letter-spacing:0.41px;font-size:25.1px">のさかい</span><ruby><span style="letter-spacing:0.41px">目</span><rt>め</rt></ruby><span style="letter-spacing:0.41px;font-size:25.1px">がどんどん</span></div>
<div class="ln it" style="left:162.0px;top:849.0px;font-size:27.0px;line-height:32px;color:#262626;font-weight:bold;--rt:-10.5px;"><ruby><span style="letter-spacing:-0.21px">固</span><rt>かた</rt></ruby><span style="letter-spacing:-0.21px;font-size:25.1px">くなっていき</span><span style="letter-spacing:-0.21px">、「</span><span style="letter-spacing:-0.21px">ゲル</span><span style="letter-spacing:-0.21px">」</span><span style="letter-spacing:-0.21px;font-size:25.1px">という</span><ruby><span style="letter-spacing:-0.21px">状態</span><rt style="letter-spacing:3.0px;padding-left:3.0px">じょうたい</rt></ruby><span style="letter-spacing:-0.21px;font-size:25.1px">になります</span><span style="letter-spacing:-0.21px">。</span></div>
<div class="ln it" style="left:162.0px;top:888.0px;font-size:27.0px;line-height:32px;color:#262626;font-weight:bold;--rt:-10.5px;"><ruby><span style="letter-spacing:-1.36px">表面</span><rt style="letter-spacing:2.8px;padding-left:2.8px">ひょうめん</rt></ruby><span style="letter-spacing:-1.36px;font-size:25.1px">がこの</span><span style="letter-spacing:-1.36px">ゲル</span><span style="letter-spacing:-1.36px;font-size:25.1px">の</span><ruby><span style="letter-spacing:-1.36px">固</span><rt>かた</rt></ruby><span style="letter-spacing:-1.36px;font-size:25.1px">いまくにおおわれることで</span><span style="letter-spacing:-1.36px">、</span></div>
<div class="ln it" style="left:160.0px;top:926.0px;font-size:27.0px;line-height:32px;color:#262626;font-weight:bold;--rt:-10.5px;"><span style="letter-spacing:-1.29px;font-size:25.1px">つかめる</span><ruby><span style="letter-spacing:-1.29px">水玉</span><rt style="letter-spacing:3.0px;padding-left:3.0px">みずたま</rt></ruby><span style="letter-spacing:-1.29px;font-size:25.1px">ができるのです</span><span style="letter-spacing:-1.29px">。</span></div>
<div class="ln" style="left:160.0px;top:1041.0px;font-size:23.5px;line-height:28px;color:#262626;font-weight:bold;-webkit-text-stroke:.3px #262626;--rt:-7.5px;"><span style="letter-spacing:2.40px">・</span><span style="letter-spacing:2.40px">②</span><span style="letter-spacing:2.40px">で</span><ruby><span style="letter-spacing:2.40px">作</span><rt>つく</rt></ruby><span style="letter-spacing:2.40px">った</span><ruby><span style="letter-spacing:2.40px">液</span><rt>えき</rt></ruby><span style="letter-spacing:2.40px">を</span><span style="letter-spacing:2.40px">、</span><ruby><span style="letter-spacing:2.40px">小</span><rt>ちい</rt></ruby><span style="letter-spacing:2.40px">さな</span><ruby><span style="letter-spacing:2.40px">粒</span><rt>つぶ</rt></ruby><span style="letter-spacing:2.40px">や</span><ruby><span style="letter-spacing:2.40px">長</span><rt>なが</rt></ruby><span style="letter-spacing:2.40px">い</span><ruby><span style="letter-spacing:2.40px">紐</span><rt>ひも</rt></ruby><span style="letter-spacing:2.40px">のようにして</span><span style="letter-spacing:2.40px">①</span><span style="letter-spacing:2.40px">の</span><ruby><span style="letter-spacing:2.40px">液</span><rt>えき</rt></ruby><span style="letter-spacing:2.40px">に</span><ruby><span style="letter-spacing:2.40px">入</span><rt>い</rt></ruby><span style="letter-spacing:2.40px">れてみよう</span><span style="letter-spacing:2.40px">。</span></div>
<div class="ln" style="left:160.0px;top:1088.0px;font-size:23.5px;line-height:28px;color:#262626;font-weight:bold;-webkit-text-stroke:.3px #262626;--rt:-7.5px;"><span style="letter-spacing:2.86px">・</span><ruby><span style="letter-spacing:2.86px">固</span><rt>かた</rt></ruby><span style="letter-spacing:2.86px">める</span><ruby><span style="letter-spacing:2.86px">時間</span><rt style="letter-spacing:3.0px;padding-left:3.0px">じかん</rt></ruby><span style="letter-spacing:2.86px">を</span><ruby><span style="letter-spacing:2.86px">長</span><rt>なが</rt></ruby><span style="letter-spacing:2.86px">くしたり</span><ruby><span style="letter-spacing:2.86px">短</span><rt>みじか</rt></ruby><span style="letter-spacing:2.86px">くしたりして</span><span style="letter-spacing:2.86px">、</span><ruby><span style="letter-spacing:2.86px">固</span><rt>かた</rt></ruby><span style="letter-spacing:2.86px">さがどのようにして</span><ruby><span style="letter-spacing:2.86px">変</span><rt>か</rt></ruby><span style="letter-spacing:2.86px">わっていくか</span></div>
<div class="ln" style="left:172.0px;top:1132.0px;font-size:23.5px;line-height:28px;color:#262626;font-weight:bold;-webkit-text-stroke:.3px #262626;--rt:-7.5px;"><ruby><span style="letter-spacing:2.62px">調</span><rt>しら</rt></ruby><span style="letter-spacing:2.62px">べてみよう</span><span style="letter-spacing:2.62px">。</span></div>
<div class="ln" style="left:388.0px;top:47.0px;font-size:30.0px;line-height:36px;color:#fff;font-weight:500;transform:rotate(-0.15deg);-webkit-text-stroke:.7px #fff;--rt:-7.5px;"><span style="letter-spacing:0.19px">つかめるぷるぷる</span><ruby><span style="letter-spacing:0.19px">水玉</span><rt style="letter-spacing:3.0px;padding-left:3.0px">みずたま</rt></ruby><span style="letter-spacing:0.19px">のしくみ</span></div>
<div class="ln" style="left:405.0px;top:975.0px;font-size:30.0px;line-height:36px;color:#fff;font-weight:500;transform:rotate(-0.15deg);-webkit-text-stroke:.7px #fff;--rt:-7.5px;"><span style="letter-spacing:2.13px">やってみよう</span><span style="letter-spacing:2.13px">、</span><span style="letter-spacing:2.13px">しらべてみよう</span></div>
</div></body></html>
